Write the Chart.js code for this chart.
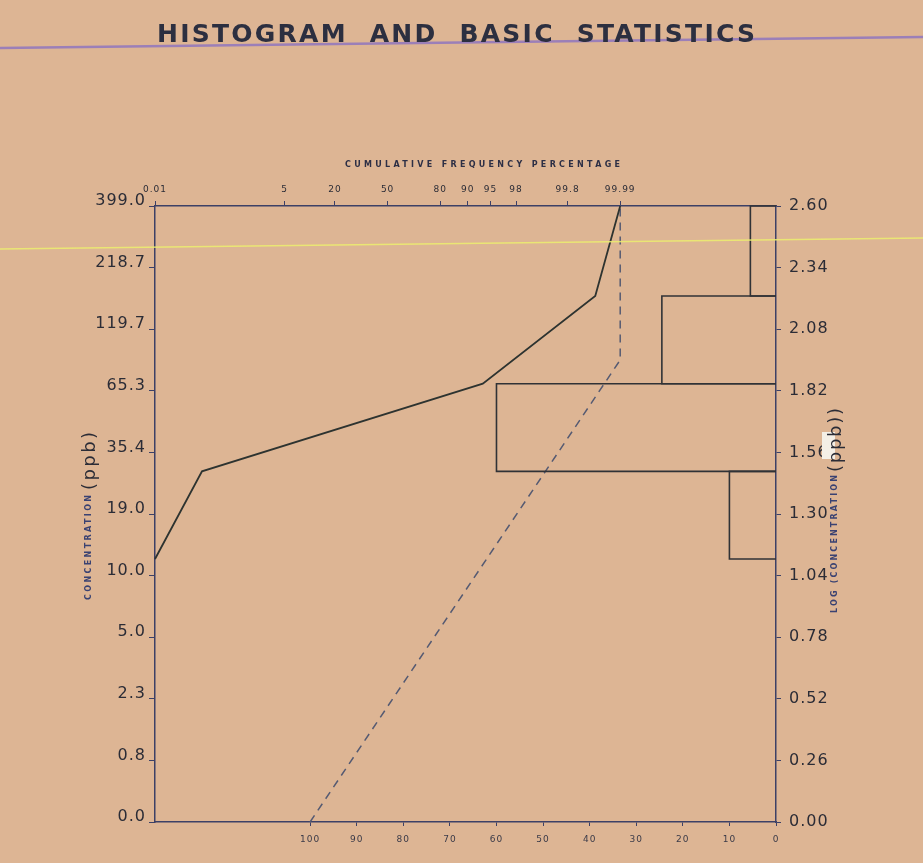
<!DOCTYPE html>
<html>
<head>
<meta charset="utf-8">
<title>Histogram and basic statistics</title>
<script src="https://cdn.jsdelivr.net/npm/chart.js@4.4.1/dist/chart.umd.min.js"></script>
<style>
  html, body { margin: 0; padding: 0; background: #ddb594; }
  #wrap { width: 923px; height: 863px; }
</style>
</head>
<body>
<div id="wrap"><canvas id="chart" width="923" height="863"></canvas></div>
<script>
// --- data ---
const logTicks = [0, 0.26, 0.52, 0.78, 1.04, 1.30, 1.56, 1.82, 2.08, 2.34, 2.60];
const logLabels = ['0.00', '0.26', '0.52', '0.78', '1.04', '1.30', '1.56', '1.82', '2.08', '2.34', '2.60'];
const concLabels = ['0.0', '0.8', '2.3', '5.0', '10.0', '19.0', '35.4', '65.3', '119.7', '218.7', '399.0'];

const cumTickPct = [0.01, 5, 20, 50, 80, 90, 95, 98, 99.8, 99.99];
const cumTickLabels = ['0.01', '5', '20', '50', '80', '90', '95', '98', '99.8', '99.99'];
const histTicks = [0, 10, 20, 30, 40, 50, 60, 70, 80, 90, 100];

// histogram bins (log concentration) and percentage of samples
const binLow = [1.11, 1.48, 1.85, 2.22];
const binHigh = [1.48, 1.85, 2.22, 2.60];
const binPct = [10, 60, 24.5, 5.5];

// observed cumulative frequency (solid)
const cumLog = [1.11, 1.48, 1.85, 2.22, 2.60];
const cumPct = [0.01, 0.15, 93.6, 99.955, 99.99];

// fitted normal line (dashed)
const fitLog = [0, 1.95, 2.60];
const fitPct = [10.75, 99.99, 99.99];

// inverse normal cdf (Acklam) -> probability-paper axis
function probit(p) {
  const a = [-3.969683028665376e+01, 2.209460984245205e+02, -2.759285104469687e+02, 1.383577518672690e+02, -3.066479806614716e+01, 2.506628277459239e+00];
  const b = [-5.447609879822406e+01, 1.615858368580409e+02, -1.556989798598866e+02, 6.680131188771972e+01, -1.328068155288572e+01];
  const c = [-7.784894002430293e-03, -3.223964580411365e-01, -2.400758277161838e+00, -2.549732539343734e+00, 4.374664141464968e+00, 2.938163982698783e+00];
  const d = [7.784695709041462e-03, 3.224671290700398e-01, 2.445134137142996e+00, 3.754408661907416e+00];
  const pl = 0.02425;
  if (p < pl) {
    const q = Math.sqrt(-2 * Math.log(p));
    return (((((c[0]*q+c[1])*q+c[2])*q+c[3])*q+c[4])*q+c[5]) / ((((d[0]*q+d[1])*q+d[2])*q+d[3])*q+1);
  }
  if (p > 1 - pl) {
    const q = Math.sqrt(-2 * Math.log(1 - p));
    return -(((((c[0]*q+c[1])*q+c[2])*q+c[3])*q+c[4])*q+c[5]) / ((((d[0]*q+d[1])*q+d[2])*q+d[3])*q+1);
  }
  const q = p - 0.5, r = q * q;
  return (((((a[0]*r+a[1])*r+a[2])*r+a[3])*r+a[4])*r+a[5])*q / (((((b[0]*r+b[1])*r+b[2])*r+b[3])*r+b[4])*r+1);
}
const zOf = pct => probit(pct / 100);

const paperColor = '#ddb594';
const ink = '#2b2c36';
const axisInk = '#3c4066';
const navy = '#3a4272';
const font = 'DejaVu Sans';

function fitText(ctx, text, x, y, width, fnt, color, rotated) {
  ctx.save();
  ctx.font = fnt;
  ctx.fillStyle = color;
  ctx.letterSpacing = '0px';
  const w0 = ctx.measureText(text).width;
  const sp = Math.max(0, (width - w0) / Math.max(1, text.length - 1));
  ctx.letterSpacing = sp + 'px';
  ctx.textAlign = 'left';
  ctx.textBaseline = rotated ? 'middle' : 'alphabetic';
  ctx.translate(x, y);
  if (rotated) ctx.rotate(-Math.PI / 2);
  ctx.fillText(text, 0, 0);
  ctx.restore();
}

const paperPlugin = {
  id: 'paper',
  beforeDraw(chart) {
    const ctx = chart.ctx;
    ctx.save();
    ctx.fillStyle = paperColor;
    ctx.fillRect(0, 0, chart.width, chart.height);
    // ruled line of the form
    ctx.strokeStyle = '#9b7fb8';
    ctx.lineWidth = 2.5;
    ctx.beginPath();
    ctx.moveTo(0, 48);
    ctx.lineTo(chart.width, 37);
    ctx.stroke();
    ctx.restore();
    ctx.letterSpacing = '1px';
  },
  afterDraw(chart) {
    const ctx = chart.ctx;
    ctx.letterSpacing = '0px';

    // scanner streak
    ctx.save();
    ctx.strokeStyle = 'rgba(236, 238, 110, 0.85)';
    ctx.lineWidth = 1.5;
    ctx.beginPath();
    ctx.moveTo(0, 249);
    ctx.lineTo(chart.width, 238);
    ctx.stroke();
    ctx.restore();

    fitText(ctx, 'HISTOGRAM  AND  BASIC  STATISTICS', 157, 42, 598, 'bold 25px ' + font, '#2c2f40', false);
    fitText(ctx, 'CUMULATIVE FREQUENCY PERCENTAGE', 345, 167, 275, 'bold 8px ' + font, '#2d2f45', false);

    // left axis title
    fitText(ctx, 'CONCENTRATION', 89, 600, 105, 'bold 8px ' + font, navy, true);
    fitText(ctx, '(ppb)', 90, 490, 58, '18px ' + font, ink, true);

    // right axis title
    ctx.save();
    ctx.fillStyle = '#f4efe6';
    ctx.fillRect(822, 432, 13, 27);
    ctx.restore();
    fitText(ctx, 'LOG (CONCENTRATION', 835, 613, 138, 'bold 8px ' + font, navy, true);
    fitText(ctx, '(ppb))', 836, 472, 64, '18px ' + font, ink, true);
  }
};

const lineInk = '#303236';

const histSets = binPct.map((p, i) => ({
  label: 'bin ' + (i + 1),
  xAxisID: 'xh',
  yAxisID: 'y',
  data: [
    { x: 0, y: binLow[i] },
    { x: p, y: binLow[i] },
    { x: p, y: binHigh[i] },
    { x: 0, y: binHigh[i] }
  ],
  showLine: true,
  borderColor: lineInk,
  borderWidth: 1.6,
  pointRadius: 0,
  tension: 0,
  fill: false,
  clip: false
}));

const cumSet = {
  label: 'cumulative',
  xAxisID: 'x',
  yAxisID: 'y',
  data: cumLog.map((l, i) => ({ x: zOf(cumPct[i]), y: l })),
  showLine: true,
  borderColor: '#2d3330',
  borderWidth: 1.8,
  pointRadius: 0,
  tension: 0,
  fill: false,
  clip: false
};

const fitSet = {
  label: 'fit',
  xAxisID: 'x',
  yAxisID: 'y',
  data: fitLog.map((l, i) => ({ x: zOf(fitPct[i]), y: l })),
  showLine: true,
  borderColor: '#555a72',
  borderWidth: 1.5,
  borderDash: [8, 6],
  pointRadius: 0,
  tension: 0,
  fill: false,
  clip: false
};

const tickFont = { family: font, size: 16 };
const smallFont = { family: font, size: 9 };

new Chart(document.getElementById('chart'), {
  type: 'scatter',
  data: { datasets: [...histSets, cumSet, fitSet] },
  options: {
    responsive: false,
    animation: false,
    devicePixelRatio: 1,
    layout: { padding: 0 },
    plugins: { legend: { display: false }, tooltip: { enabled: false }, title: { display: false } },
    scales: {
      x: {
        type: 'linear',
        position: 'top',
        min: zOf(0.01),
        max: 6.21,
        afterBuildTicks: s => { s.ticks = cumTickPct.map(p => ({ value: zOf(p) })); },
        afterFit: s => { s.height = 206; },
        grid: { drawOnChartArea: false, drawTicks: true, tickLength: 5, color: axisInk, lineWidth: 1 },
        border: { display: true, color: axisInk, width: 1.5 },
        ticks: {
          autoSkip: false, maxRotation: 0, padding: 6, color: ink, font: smallFont,
          callback: (v, i) => cumTickLabels[i]
        }
      },
      xh: {
        type: 'linear',
        position: 'bottom',
        reverse: true,
        min: 0,
        max: 133.3,
        afterBuildTicks: s => { s.ticks = histTicks.map(v => ({ value: v })); },
        afterFit: s => { s.height = 41; },
        grid: { drawOnChartArea: false, drawTicks: true, tickLength: 4, color: axisInk, lineWidth: 1 },
        border: { display: true, color: axisInk, width: 1.5 },
        ticks: {
          autoSkip: false, maxRotation: 0, padding: 8, color: '#3a3a48', font: smallFont,
          callback: (v, i) => String(histTicks[i])
        }
      },
      y: {
        type: 'linear',
        position: 'left',
        min: 0,
        max: 2.6,
        afterBuildTicks: s => { s.ticks = logTicks.map(v => ({ value: v })); },
        afterFit: s => { s.width = 155; },
        grid: { drawOnChartArea: false, drawTicks: true, tickLength: 6, color: axisInk, lineWidth: 1 },
        border: { display: true, color: axisInk, width: 1.5 },
        ticks: {
          autoSkip: false, padding: 3, labelOffset: -5, color: ink, font: tickFont,
          callback: (v, i) => concLabels[i]
        }
      },
      y2: {
        type: 'linear',
        position: 'right',
        min: 0,
        max: 2.6,
        afterBuildTicks: s => { s.ticks = logTicks.map(v => ({ value: v })); },
        afterFit: s => { s.width = 147; },
        grid: { drawOnChartArea: false, drawTicks: true, tickLength: 5, color: axisInk, lineWidth: 1 },
        border: { display: true, color: axisInk, width: 1.5 },
        ticks: {
          autoSkip: false, padding: 8, color: ink, font: tickFont,
          callback: (v, i) => logLabels[i]
        }
      }
    }
  },
  plugins: [paperPlugin]
});
</script>
</body>
</html>
